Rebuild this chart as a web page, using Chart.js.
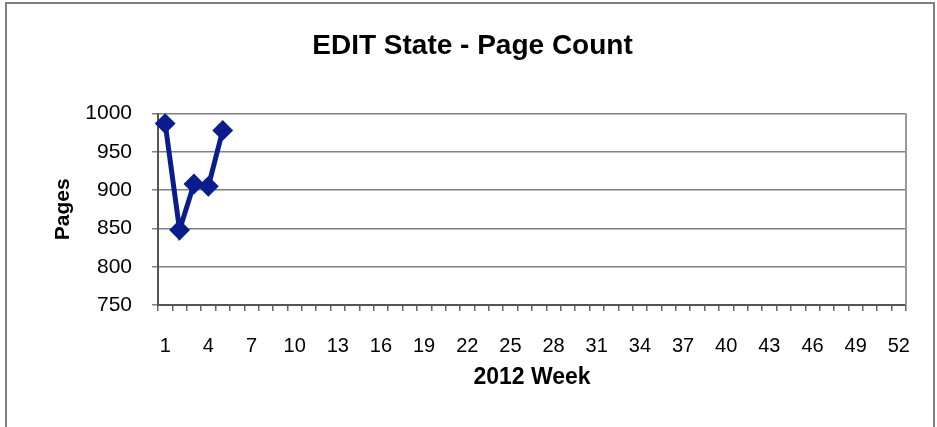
<!DOCTYPE html>
<html>
<head>
<meta charset="utf-8">
<script src="https://cdn.jsdelivr.net/npm/chart.js@4/dist/chart.umd.min.js"></script>
<style>
  html, body { margin: 0; padding: 0; background: #fff; }
  #wrap { position: relative; width: 937px; height: 427px; }
  #frame {
    position: absolute; left: 5px; top: 2px; width: 926px; height: 423px;
    border: 2px solid #808080; border-bottom: 1px solid #ddd; pointer-events: none;
  }
  canvas { position: absolute; left: 0; top: 0; }
</style>
</head>
<body>
<div id="wrap">
  <canvas id="chart" width="937" height="427"></canvas>
  <div id="frame"></div>
</div>
<script>
// weeks of 2012 (categories)
const weeks = [1, 2, 3, 4, 5, 6, 7, 8, 9, 10, 11, 12, 13, 14, 15, 16, 17, 18, 19, 20,
  21, 22, 23, 24, 25, 26, 27, 28, 29, 30, 31, 32, 33, 34, 35, 36, 37, 38, 39, 40,
  41, 42, 43, 44, 45, 46, 47, 48, 49, 50, 51, 52];
// labelled weeks on the axis
const shownWeeks = [1, 4, 7, 10, 13, 16, 19, 22, 25, 28, 31, 34, 37, 40, 43, 46, 49, 52];
// pages in EDIT state, only first weeks reported
const pageCount = [987, 848, 908, 905, 978];
const yTicks = [750, 800, 850, 900, 950, 1000];

const FONT = "'Liberation Sans', Arial, sans-serif";
const navy = "#0b1d8e";

// gray right border of the plot area
const plotFrame = {
  id: "plotFrame",
  afterDraw(chart) {
    const { ctx, chartArea } = chart;
    ctx.save();
    ctx.strokeStyle = "#999";
    ctx.lineWidth = 2;
    ctx.beginPath();
    ctx.moveTo(chartArea.right, chartArea.top);
    ctx.lineTo(chartArea.right, chartArea.bottom);
    ctx.stroke();
    ctx.restore();
  },
};

new Chart(document.getElementById("chart"), {
  type: "line",
  data: {
    labels: weeks,
    datasets: [
      {
        label: "Pages",
        data: pageCount,
        yAxisID: "y",
        borderColor: navy,
        backgroundColor: navy,
        borderWidth: 5,
        tension: 0,
        pointStyle: "rectRot",
        pointRadius: 9,
        pointBorderWidth: 2,
        pointBackgroundColor: navy,
        pointBorderColor: navy,
      },
    ],
  },
  options: {
    responsive: false,
    animation: false,
    layout: { padding: { left: 8, right: 0, top: 0, bottom: 0 } },
    plugins: {
      legend: { display: false },
      tooltip: { enabled: false },
      title: {
        display: true,
        text: "EDIT State - Page Count",
        color: "#000",
        font: { family: FONT, size: 28, weight: "bold" },
        padding: { top: 29, bottom: 51 },
      },
    },
    scales: {
      x: {
        type: "category",
        offset: true,
        afterFit(scale) {
          scale.height = 122;
        },
        grid: {
          offset: true,
          drawOnChartArea: false,
          drawTicks: true,
          tickLength: 6,
          color: "#666",
          lineWidth: 1.5,
        },
        border: { color: "#555", width: 2 },
        ticks: {
          autoSkip: false,
          maxRotation: 0,
          padding: 23,
          color: "#000",
          font: { family: FONT, size: 20 },
          callback(value, index) {
            const w = weeks[index];
            return shownWeeks.includes(w) ? String(w) : "";
          },
        },
        title: {
          display: true,
          text: "2012 Week",
          color: "#000",
          font: { family: FONT, size: 23, weight: "bold" },
          padding: { top: 36, bottom: 36 },
        },
      },
      y: {
        min: 750,
        max: 1000,
        afterFit(scale) {
          scale.width = 150;
        },
        afterBuildTicks(scale) {
          scale.ticks = yTicks.map((v) => ({ value: v }));
        },
        grid: {
          color: "#808080",
          lineWidth: 1.5,
          tickLength: 6,
        },
        border: { color: "#555", width: 2 },
        ticks: {
          padding: 20,
          color: "#000",
          font: { family: FONT, size: 21 },
          callback(value) {
            return String(value);
          },
        },
        title: {
          display: true,
          text: "Pages",
          color: "#000",
          font: { family: FONT, size: 21, weight: "bold" },
          padding: { top: 43, bottom: 43 },
        },
      },
      // empty right margin so the title stays centred on the whole frame
      yRight: {
        position: "right",
        display: true,
        afterFit(scale) {
          scale.width = 31;
        },
        grid: { display: false, drawTicks: false },
        border: { display: false },
        ticks: { display: false },
      },
    },
  },
  plugins: [plotFrame],
});
</script>
</body>
</html>
